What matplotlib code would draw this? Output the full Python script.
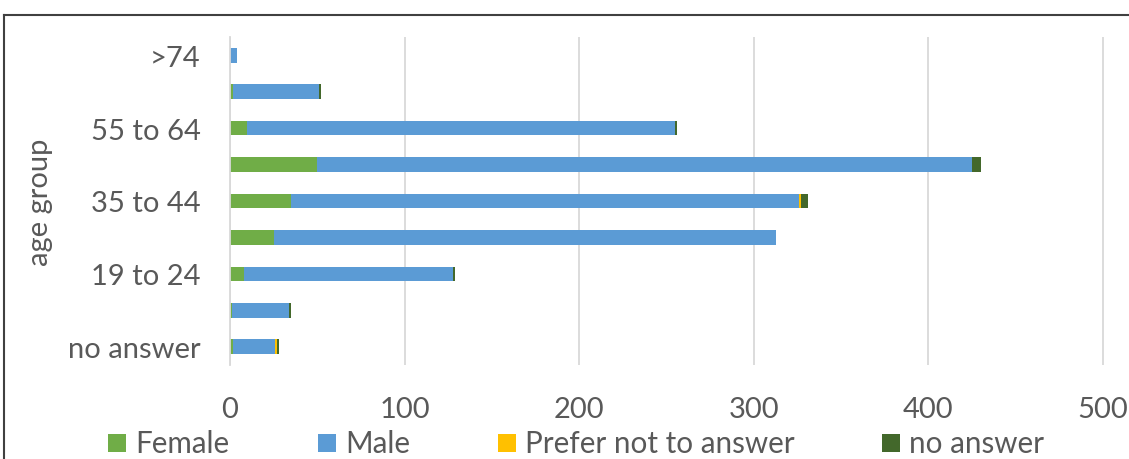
import matplotlib
matplotlib.use("Agg")
import matplotlib.pyplot as plt
from matplotlib.lines import Line2D
from matplotlib.patches import Rectangle
import numpy as np

plt.rcParams['font.family'] = ['Lato', 'DejaVu Sans']

# data (bottom to top)
age_groups = ["no answer", "<19", "19 to 24", "25 to 34", "35 to 44",
              "45 to 54", "55 to 64", "65 to 74", ">74"]
female = [2, 1, 8, 25, 35, 50, 10, 2, 0]
male = [24, 33, 120, 288, 291, 375, 245, 49, 4]
prefer_not = [1, 0, 0, 0, 1, 0, 0, 0, 0]
no_answer = [1, 1, 1, 0, 4, 5, 1, 1, 0]

series = [("Female", female, "#70AD47"),
          ("Male", male, "#5B9BD5"),
          ("Prefer not to answer", prefer_not, "#FFC000"),
          ("no answer", no_answer, "#43682B")]

W, H = 1129, 460
text_col = "#595959"
grid_col = "#D9D9D9"

fig = plt.figure(figsize=(W / 100, H / 100), dpi=100)
ax = fig.add_axes([230 / W, 1 - 366 / H, (1110 - 230) / W, (366 - 38) / H])

y = np.arange(len(age_groups))
left = np.zeros(len(age_groups))
for name, vals, col in series:
    ax.barh(y, vals, left=left, height=0.4, color=col, label=name, zorder=3)
    left += np.array(vals)

ax.set_xlim(0, 500 * (1110 - 230) / (1103 - 230))
ax.set_ylim(-0.5, len(age_groups) - 0.5)
ax.set_xticks([0, 100, 200, 300, 400, 500])
ax.set_yticks(y)
ax.set_yticklabels([g if i % 2 == 0 else "" for i, g in enumerate(age_groups)])
ax.tick_params(axis="both", length=0, labelsize=21, labelcolor=text_col)
ax.tick_params(axis="y", pad=21)
ax.tick_params(axis="x", pad=22)
ax.grid(axis="x", color=grid_col, linewidth=1.3, zorder=0)
for s in ["top", "right", "bottom"]:
    ax.spines[s].set_visible(False)
ax.spines["left"].set_color(grid_col)
ax.spines["left"].set_linewidth(1.3)
ax.spines["left"].set_zorder(4)

fig.text(40 / W, 1 - 202 / H, "age group", rotation=90, ha="center",
         va="center", fontsize=21, color=text_col)

# legend entries laid out like the Excel legend
legend_x = [108, 318, 498, 882]
for (name, vals, col), lx in zip(series, legend_x):
    fig.add_artist(Rectangle((lx / W, 1 - 453 / H), 18 / W, 18 / H,
                             transform=fig.transFigure, color=col, lw=0))
    fig.text((lx + 27) / W, 1 - 444 / H, name, ha="left", va="center",
             fontsize=21.3, color=text_col)

# outer chart frame (cut off on the right and bottom)
fig.add_artist(Line2D([4 / W, 1.0], [1 - 16 / H, 1 - 16 / H],
                      transform=fig.transFigure, color="#404040", linewidth=1.5))
fig.add_artist(Line2D([4 / W, 4 / W], [0.0, 1 - 16 / H],
                      transform=fig.transFigure, color="#404040", linewidth=1.5))

fig.savefig("out.png", dpi=100, facecolor="white")
